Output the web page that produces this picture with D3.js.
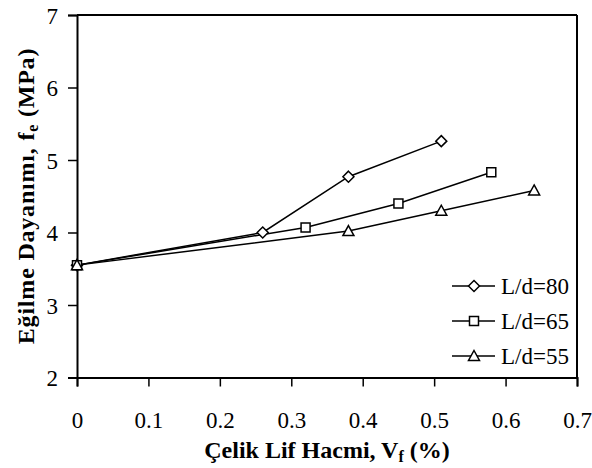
<!DOCTYPE html>
<html><head><meta charset="utf-8">
<script src="https://cdn.jsdelivr.net/npm/d3@7"></script>
<style>body{margin:0;background:#fff}svg{display:block}text{font-family:"Liberation Serif","Times New Roman",serif;fill:#000}</style>
</head><body><svg id="c" width="592" height="468"></svg>
<script>
const seriesNames = ["L/d=80", "L/d=65", "L/d=55"];
const xs80 = [0, 0.26, 0.38, 0.51];
const ys80 = [3.55, 4.0, 4.77, 5.26];
const xs65 = [0, 0.32, 0.45, 0.58];
const ys65 = [3.55, 4.07, 4.40, 4.83];
const xs55 = [0, 0.38, 0.51, 0.64];
const ys55 = [3.55, 4.02, 4.30, 4.58];
const xTicks = [0, 0.1, 0.2, 0.3, 0.4, 0.5, 0.6, 0.7];
const yTicks = [2, 3, 4, 5, 6, 7];
const markers = ["diamond", "square", "triangle"];

const svg = d3.select("#c");
const L = 77, R = 577, T = 15, B = 377.5;
const x = d3.scaleLinear().domain([0, 0.7]).range([L, R]);
const y = d3.scaleLinear().domain([2, 7]).range([B, T]);

const series = [
  {name: seriesNames[0], xs: xs80, ys: ys80, m: markers[0]},
  {name: seriesNames[1], xs: xs65, ys: ys65, m: markers[1]},
  {name: seriesNames[2], xs: xs55, ys: ys55, m: markers[2]}
];

// frame top/right
svg.append("line").attr("x1", L).attr("x2", R).attr("y1", T).attr("y2", T).attr("stroke", "#000").attr("stroke-width", 2);
svg.append("line").attr("x1", R).attr("x2", R).attr("y1", T).attr("y2", B).attr("stroke", "#000").attr("stroke-width", 2);

const xa = svg.append("g").attr("transform", `translate(0,${B})`)
  .call(d3.axisBottom(x).tickValues(xTicks).tickFormat(d => d === 0 ? "0" : d3.format(".1f")(d)).tickSize(9).tickPadding(25));
const ya = svg.append("g").attr("transform", `translate(${L},0)`)
  .call(d3.axisLeft(y).tickValues(yTicks).tickFormat(d3.format("d")).tickSize(9).tickPadding(10));
[xa, ya].forEach(a => {
  a.attr("font-family", null).attr("font-size", null);
  a.select(".domain").attr("stroke-width", 2);
  a.selectAll(".tick line").attr("stroke-width", 1.5);
  a.selectAll("text").style("font-family", '"Liberation Serif", serif').style("font-size", "23px").attr("fill", "#000");
});
ya.selectAll("text").attr("dy", "0.35em");

const line = d3.line();
function marker(g, type, cx, cy) {
  let p;
  if (type === "diamond") p = [[cx, cy - 5.5], [cx + 5.5, cy], [cx, cy + 5.5], [cx - 5.5, cy]];
  else if (type === "square") p = [[cx - 4.5, cy - 4.5], [cx + 4.5, cy - 4.5], [cx + 4.5, cy + 4.5], [cx - 4.5, cy + 4.5]];
  else p = [[cx, cy - 5.5], [cx + 5.5, cy + 4.5], [cx - 5.5, cy + 4.5]];
  g.append("path").attr("d", "M" + p.join("L") + "Z").attr("fill", "#fff").attr("stroke", "#000").attr("stroke-width", 1.5);
}

series.forEach(s => {
  const pts = s.xs.map((v, i) => [x(v), y(s.ys[i])]);
  svg.append("path").attr("d", line(pts)).attr("fill", "none").attr("stroke", "#000").attr("stroke-width", 1.5);
});
series.forEach(s => {
  const g = svg.append("g");
  s.xs.forEach((v, i) => marker(g, s.m, x(v), y(s.ys[i])));
});

// legend
series.forEach((s, i) => {
  const ly = 286 + i * 35;
  const g = svg.append("g");
  g.append("line").attr("x1", 452).attr("x2", 495).attr("y1", ly).attr("y2", ly).attr("stroke", "#000").attr("stroke-width", 1.5);
  marker(g, s.m, 474, ly);
  g.append("text").attr("x", 501).attr("y", ly).attr("dy", "0.35em").style("font-size", "23px").text(s.name);
});

// axis titles
const xt = svg.append("text").attr("x", 327).attr("y", 458).attr("text-anchor", "middle")
  .style("font-size", "24px").style("font-weight", "bold");
xt.append("tspan").text("Çelik Lif Hacmi, V");
xt.append("tspan").attr("dy", 4).style("font-size", "16px").text("f");
xt.append("tspan").attr("dy", -4).text(" (%)");

const yt = svg.append("text").attr("transform", "translate(34,196) rotate(-90)").attr("text-anchor", "middle")
  .style("font-size", "24px").style("font-weight", "bold").style("letter-spacing", "0.8px");
yt.append("tspan").text("Eğilme Dayanımı, f");
yt.append("tspan").attr("dy", 4).style("font-size", "16px").text("e");
yt.append("tspan").attr("dy", -4).text(" (MPa)");
</script></body></html>
